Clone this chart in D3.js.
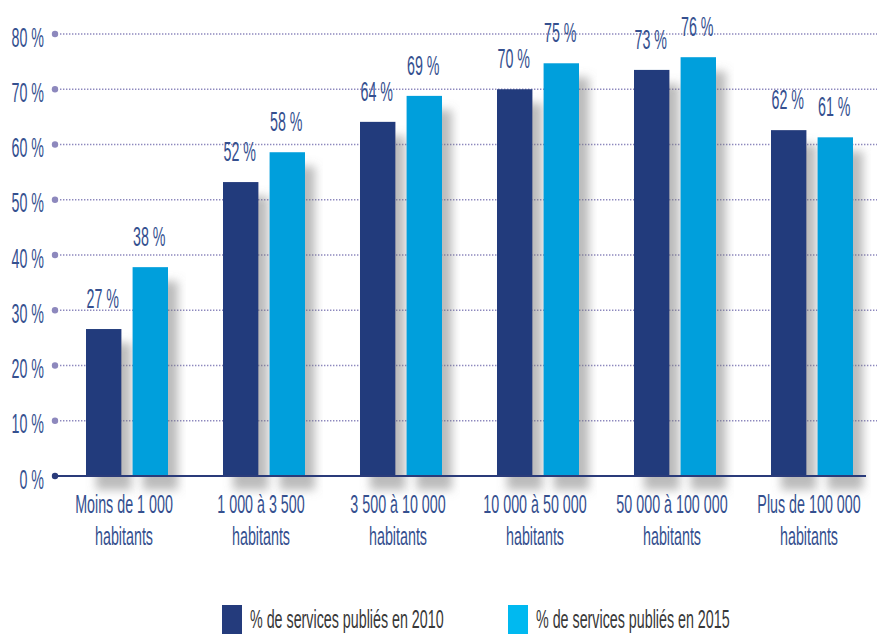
<!DOCTYPE html>
<html>
<head>
<meta charset="utf-8">
<script src="https://cdn.jsdelivr.net/npm/d3@7"></script>
<style>
  body { margin: 0; background: #fff; }
  text { font-family: "Liberation Sans", Arial, sans-serif; fill: #35508f; }
</style>
</head>
<body>
<svg id="chart"></svg>
<script>
// categories and series
const categories = [
  ['Moins de 1 000', 'habitants'],
  ['1 000 à 3 500', 'habitants'],
  ['3 500 à 10 000', 'habitants'],
  ['10 000 à 50 000', 'habitants'],
  ['50 000 à 100 000', 'habitants'],
  ['Plus de 100 000', 'habitants']
];
const series = ['% de services publiés en 2010', '% de services publiés en 2015'];
// bar heights as drawn in the picture
const values2010 = [26.6, 53.2, 64.1, 70.0, 73.5, 62.6];
const values2015 = [37.8, 58.6, 68.8, 74.7, 75.8, 61.3];
// printed labels
const labels2010 = ['27 %', '52 %', '64 %', '70 %', '73 %', '62 %'];
const labels2015 = ['38 %', '58 %', '69 %', '75 %', '76 %', '61 %'];
const ticks = [0, 10, 20, 30, 40, 50, 60, 70, 80];

const size = { w: 877, h: 635 };
const colors = ['#243b7c', '#009fdc'];
const legendColors = ['#243b7c', '#00b9f0'];

const svg = d3.select('svg#chart')
    .attr('width', size.w)
    .attr('height', size.h);

const defs = svg.append('defs');
const f = defs.append('filter').attr('id', 'shadow')
    .attr('x', '-50%').attr('y', '-20%').attr('width', '200%').attr('height', '150%');
f.append('feDropShadow')
    .attr('dx', 10).attr('dy', 14)
    .attr('stdDeviation', 5)
    .attr('flood-color', '#777')
    .attr('flood-opacity', 0.5);

const y = d3.scaleLinear().domain([0, 80]).range([476, 34]);
const x0 = d3.scaleBand().domain(d3.range(categories.length)).range([58, 880]);
const x1 = d3.scaleBand().domain([0, 1]).range([28, 110]).paddingInner(0.24);

// no condensed font installed, so squeeze the text horizontally
const nt = (x, y, s) => `translate(${x},${y}) scale(${s},1)`;

// gridlines
svg.append('g').selectAll('line')
    .data(ticks.filter(d => d > 0))
    .join('line')
    .attr('x1', 60).attr('x2', size.w)
    .attr('y1', d => y(d)).attr('y2', d => y(d))
    .attr('stroke', '#8d88bd')
    .attr('stroke-width', 1.4)
    .attr('stroke-dasharray', '1.4 1.6');

// bars with soft shadow
const groups = svg.append('g').selectAll('g')
    .data(categories.map((c, i) => ({ i, v: [values2010[i], values2015[i]], l: [labels2010[i], labels2015[i]] })))
    .join('g')
    .attr('transform', d => `translate(${x0(d.i)},0)`);

groups.selectAll('rect')
    .data(d => d.v.map((v, k) => ({ v, k })))
    .join('rect')
    .attr('x', d => x1(d.k))
    .attr('width', x1.bandwidth())
    .attr('y', d => y(d.v))
    .attr('height', d => y(0) - y(d.v))
    .attr('fill', d => colors[d.k])
    .attr('filter', 'url(#shadow)');

groups.selectAll('text.val')
    .data(d => d.l.map((l, k) => ({ l, k, v: d.v[k] })))
    .join('text')
    .attr('class', 'val')
    .attr('transform', d => nt(x1(d.k) + x1.bandwidth() / 2 - 1, y(d.v) - 21, 0.5))
    .attr('text-anchor', 'middle')
    .attr('font-size', 28.5)
    .text(d => d.l);

// axis line
svg.append('line')
    .attr('x1', 55).attr('x2', 866)
    .attr('y1', y(0)).attr('y2', y(0))
    .attr('stroke', '#2a3b7a').attr('stroke-width', 2);

// tick dots and labels
const tk = svg.append('g').selectAll('g')
    .data(ticks)
    .join('g')
    .attr('transform', d => `translate(0,${y(d)})`);
tk.append('circle')
    .attr('cx', 55).attr('r', 3.2)
    .attr('fill', d => d === 0 ? '#2a3b7a' : '#8d88bd');
tk.append('text')
    .attr('transform', nt(44, 12.5, 0.5))
    .attr('text-anchor', 'end')
    .attr('font-size', 28.5)
    .text(d => d + ' %');

// category labels
const cx = i => x0(i) + (x1(0) + x1(1) + x1.bandwidth()) / 2 - 3;
[0, 1].forEach(line => {
  svg.append('g').selectAll('text')
      .data(categories)
      .join('text')
      .attr('transform', (d, i) => nt(cx(i), 513 + line * 32, 0.55))
      .attr('text-anchor', 'middle')
      .attr('font-size', 26)
      .text(d => d[line]);
});

// legend
const legX = [222, 508];
const leg = svg.append('g').selectAll('g')
    .data(series)
    .join('g')
    .attr('transform', (d, i) => `translate(${legX[i]},605)`);
leg.append('rect')
    .attr('width', 20).attr('height', 29)
    .attr('fill', (d, i) => legendColors[i]);
leg.append('text')
    .attr('transform', nt(28, 23, 0.56))
    .attr('font-size', 25.5)
    .style('fill', '#383838')
    .text(d => d);
</script>
</body>
</html>
